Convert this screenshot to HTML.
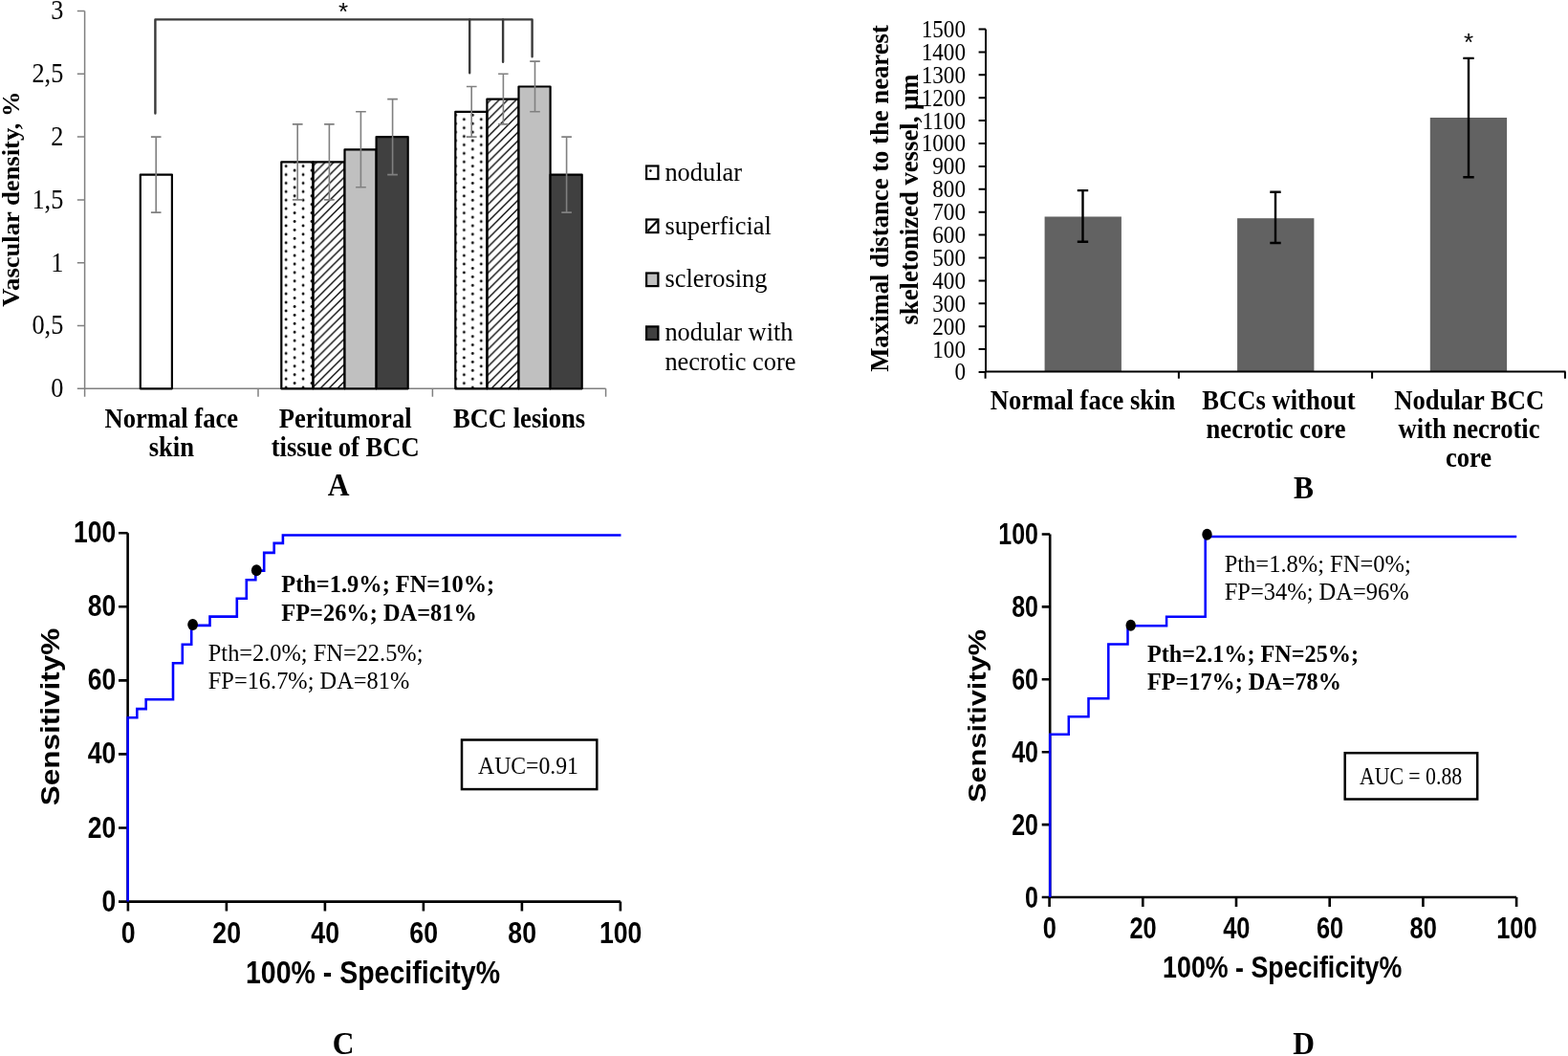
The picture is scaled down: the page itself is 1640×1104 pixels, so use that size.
<!DOCTYPE html>
<html><head><meta charset="utf-8"><title>Figure</title>
<style>
html,body{margin:0;padding:0;background:#fff;width:1640px;height:1104px;overflow:hidden;}
svg{display:block;}
#wrap{width:1640px;height:1104px;}
.s{font-family:"Liberation Serif","Times New Roman",serif;}
.a{font-family:"Liberation Sans",Arial,sans-serif;}
</style></head><body>
<div id="wrap">
<svg width="1640" height="1104" viewBox="0 0 1640 1104">
<defs>
<pattern id="dotsB" patternUnits="userSpaceOnUse" width="17.9" height="8.9" x="485.4" y="258.3">
<circle cx="0" cy="0" r="1.4" fill="#000"/><circle cx="17.9" cy="0" r="1.4" fill="#000"/>
<circle cx="0" cy="8.9" r="1.4" fill="#000"/><circle cx="17.9" cy="8.9" r="1.4" fill="#000"/>
<circle cx="8.95" cy="4.45" r="1.4" fill="#000"/>
</pattern>
<pattern id="dotsP" patternUnits="userSpaceOnUse" width="17.9" height="8.9" x="299.2" y="253.8">
<circle cx="0" cy="0" r="1.4" fill="#000"/><circle cx="17.9" cy="0" r="1.4" fill="#000"/>
<circle cx="0" cy="8.9" r="1.4" fill="#000"/><circle cx="17.9" cy="8.9" r="1.4" fill="#000"/>
<circle cx="8.95" cy="4.45" r="1.4" fill="#000"/>
</pattern>
<pattern id="hatchP" patternUnits="userSpaceOnUse" width="8.9" height="8.9" x="0" y="2.45">
<path d="M-2,10.9 L10.9,-2 M-2,2 L2,-2 M6.9,10.9 L10.9,6.9" stroke="#000" stroke-width="1.35"/>
</pattern>
<pattern id="hatchB" patternUnits="userSpaceOnUse" width="8.9" height="8.9" x="0" y="3.5">
<path d="M-2,10.9 L10.9,-2 M-2,2 L2,-2 M6.9,10.9 L10.9,6.9" stroke="#000" stroke-width="1.35"/>
</pattern>
</defs>
<rect width="1640" height="1104" fill="#fff"/>
<g>
<g id="A">
<g stroke="#808080" stroke-width="1.5" fill="none">
<path d="M88.6,11.5 V406.3 H633.6"/>
<path d="M80.8,406.3 H88.6 M80.8,340.5 H88.6 M80.8,274.7 H88.6 M80.8,208.9 H88.6 M80.8,143.1 H88.6 M80.8,77.3 H88.6 M80.8,11.5 H88.6"/>
<path d="M88.6,406.3 V414.7 M270,406.3 V414.7 M452.4,406.3 V414.7 M633.6,406.3 V414.7"/>
</g>
<text class="s" font-size="26.3" text-anchor="end" transform="translate(66.30,415.10) scale(1.000,1.100)">0</text>
<text class="s" font-size="26.3" text-anchor="end" transform="translate(66.30,349.30) scale(1.000,1.100)">0,5</text>
<text class="s" font-size="26.3" text-anchor="end" transform="translate(66.30,283.50) scale(1.000,1.100)">1</text>
<text class="s" font-size="26.3" text-anchor="end" transform="translate(66.30,217.70) scale(1.000,1.100)">1,5</text>
<text class="s" font-size="26.3" text-anchor="end" transform="translate(66.30,151.90) scale(1.000,1.100)">2</text>
<text class="s" font-size="26.3" text-anchor="end" transform="translate(66.30,86.10) scale(1.000,1.100)">2,5</text>
<text class="s" font-size="26.3" text-anchor="end" transform="translate(66.30,20.30) scale(1.000,1.100)">3</text>
<text class="s" font-size="26.6" font-weight="bold" text-anchor="middle" transform="translate(20.00,208.00) rotate(-90) scale(1.000,0.980)">Vascular density, %</text>
<g stroke="#000" stroke-width="2.2" stroke-linejoin="round">
<rect x="146.8" y="182.6" width="33.1" height="223.7" fill="#fff"/>
<rect x="294.3" y="169.4" width="33.1" height="236.9" fill="url(#dotsP)"/>
<rect x="327.4" y="169.4" width="33.1" height="236.9" fill="url(#hatchP)"/>
<rect x="360.5" y="156.3" width="33.1" height="250.0" fill="#c0c0c0"/>
<rect x="393.6" y="143.1" width="33.1" height="263.2" fill="#404040"/>
<rect x="476.3" y="116.8" width="33.1" height="289.5" fill="url(#dotsB)"/>
<rect x="509.4" y="103.6" width="33.1" height="302.7" fill="url(#hatchB)"/>
<rect x="542.5" y="90.5" width="33.1" height="315.8" fill="#c0c0c0"/>
<rect x="575.6" y="182.6" width="33.1" height="223.7" fill="#404040"/>
</g>
<g stroke="#808080" stroke-width="1.6" fill="none">
<path d="M163.2,143.1 V222.1 M157.9,143.1 H168.5 M157.9,222.1 H168.5"/>
<path d="M311.2,129.9 V208.9 M305.9,129.9 H316.6 M305.9,208.9 H316.6"/>
<path d="M344.4,129.9 V208.9 M339.1,129.9 H349.7 M339.1,208.9 H349.7"/>
<path d="M377.4,116.8 V195.7 M372.1,116.8 H382.8 M372.1,195.7 H382.8"/>
<path d="M410.6,103.6 V182.6 M405.2,103.6 H415.9 M405.2,182.6 H415.9"/>
<path d="M493.2,90.5 V143.1 M487.9,90.5 H498.6 M487.9,143.1 H498.6"/>
<path d="M526.4,77.3 V129.9 M521.1,77.3 H531.6 M521.1,129.9 H531.6"/>
<path d="M559.5,64.1 V116.8 M554.2,64.1 H564.8 M554.2,116.8 H564.8"/>
<path d="M592.6,143.1 V222.1 M587.3,143.1 H597.9 M587.3,222.1 H597.9"/>
</g>
<g stroke="#3a3a3a" stroke-width="2.4" fill="none" stroke-linejoin="round" stroke-linecap="round">
<path d="M162.4,118.5 V20.4 H556.6 V59.2"/>
<path d="M491.2,20.4 V76.3 M526.1,20.4 V64.8"/>
</g>
<text class="a" font-size="26" text-anchor="middle" transform="translate(359.00,20.50)">*</text>
<text class="s" font-size="26.6" font-weight="bold" text-anchor="middle" transform="translate(179.30,446.80) scale(1.000,1.070)">Normal face</text>
<text class="s" font-size="26.6" font-weight="bold" text-anchor="middle" transform="translate(179.30,477.00) scale(1.000,1.070)">skin</text>
<text class="s" font-size="26.6" font-weight="bold" text-anchor="middle" transform="translate(361.20,446.80) scale(1.000,1.070)">Peritumoral</text>
<text class="s" font-size="26.6" font-weight="bold" text-anchor="middle" transform="translate(361.20,477.00) scale(1.000,1.070)">tissue of BCC</text>
<text class="s" font-size="26.6" font-weight="bold" text-anchor="middle" transform="translate(543.00,446.80) scale(1.000,1.070)">BCC lesions</text>
<text class="s" font-size="31.5" font-weight="bold" text-anchor="middle" transform="translate(354.00,517.50) scale(1.000,1.090)">A</text>
<g stroke="#000" stroke-width="2.2">
<rect x="676.1" y="173.5" width="12.3" height="13.6" fill="#fff"/>
<rect x="676.1" y="229.5" width="12.3" height="13.6" fill="#fff"/>
<rect x="676.1" y="285.5" width="12.3" height="13.6" fill="#c0c0c0"/>
<rect x="676.1" y="341.4" width="12.3" height="13.6" fill="#404040"/>
</g>
<circle cx="680.4" cy="178.6" r="1.3" fill="#000"/>
<path d="M677.5,241.5 L687.5,231" stroke="#000" stroke-width="2.2"/>
<text class="s" font-size="26.4" transform="translate(695.40,188.60)">nodular</text>
<text class="s" font-size="26.4" transform="translate(695.40,244.60)">superficial</text>
<text class="s" font-size="26.4" transform="translate(695.40,300.40)">sclerosing</text>
<text class="s" font-size="26.4" transform="translate(695.40,356.00)">nodular with</text>
<text class="s" font-size="26.4" transform="translate(695.40,387.10)">necrotic core</text>
</g>
<g id="B">
<text class="s" font-size="26.7" font-weight="bold" text-anchor="middle" transform="translate(929.00,207.50) rotate(-90)">Maximal distance to the nearest</text>
<text class="s" font-size="26.7" font-weight="bold" text-anchor="middle" transform="translate(960.00,208.50) rotate(-90)">skeletonized vessel, µm</text>
<text class="s" font-size="23.2" text-anchor="end" transform="translate(1010.00,397.40) scale(1.000,1.080)">0</text>
<text class="s" font-size="23.2" text-anchor="end" transform="translate(1010.00,373.50) scale(1.000,1.080)">100</text>
<text class="s" font-size="23.2" text-anchor="end" transform="translate(1010.00,349.60) scale(1.000,1.080)">200</text>
<text class="s" font-size="23.2" text-anchor="end" transform="translate(1010.00,325.70) scale(1.000,1.080)">300</text>
<text class="s" font-size="23.2" text-anchor="end" transform="translate(1010.00,301.80) scale(1.000,1.080)">400</text>
<text class="s" font-size="23.2" text-anchor="end" transform="translate(1010.00,277.90) scale(1.000,1.080)">500</text>
<text class="s" font-size="23.2" text-anchor="end" transform="translate(1010.00,254.00) scale(1.000,1.080)">600</text>
<text class="s" font-size="23.2" text-anchor="end" transform="translate(1010.00,230.10) scale(1.000,1.080)">700</text>
<text class="s" font-size="23.2" text-anchor="end" transform="translate(1010.00,206.20) scale(1.000,1.080)">800</text>
<text class="s" font-size="23.2" text-anchor="end" transform="translate(1010.00,182.30) scale(1.000,1.080)">900</text>
<text class="s" font-size="23.2" text-anchor="end" transform="translate(1010.00,158.40) scale(1.000,1.080)">1000</text>
<text class="s" font-size="23.2" text-anchor="end" transform="translate(1010.00,134.50) scale(1.000,1.080)">1100</text>
<text class="s" font-size="23.2" text-anchor="end" transform="translate(1010.00,110.60) scale(1.000,1.080)">1200</text>
<text class="s" font-size="23.2" text-anchor="end" transform="translate(1010.00,86.70) scale(1.000,1.080)">1300</text>
<text class="s" font-size="23.2" text-anchor="end" transform="translate(1010.00,62.80) scale(1.000,1.080)">1400</text>
<text class="s" font-size="23.2" text-anchor="end" transform="translate(1010.00,38.90) scale(1.000,1.080)">1500</text>
<g fill="#626262">
<rect x="1092.6" y="226.5" width="80.3" height="162.1"/>
<rect x="1294.1" y="228.2" width="80.3" height="160.4"/>
<rect x="1495.8" y="123.0" width="80.3" height="265.6"/>
</g>
<g stroke="#000" stroke-width="2" fill="none">
<path d="M1031,30.5 V388.6 H1637.5"/>
<path d="M1023.6,389.0 H1031 M1023.6,365.1 H1031 M1023.6,341.2 H1031 M1023.6,317.3 H1031 M1023.6,293.4 H1031 M1023.6,269.5 H1031 M1023.6,245.6 H1031 M1023.6,221.7 H1031 M1023.6,197.8 H1031 M1023.6,173.9 H1031 M1023.6,150.0 H1031 M1023.6,126.1 H1031 M1023.6,102.2 H1031 M1023.6,78.3 H1031 M1023.6,54.4 H1031 M1023.6,30.5 H1031"/>
<path d="M1030.6,388.6 V395.7 M1232.9,388.6 V395.7 M1435.1,388.6 V395.7 M1636.9,388.6 V395.7"/>
</g>
<g stroke="#000" stroke-width="2.4" fill="none">
<path d="M1132.5,199.1 V252.8 M1126.8,199.1 H1138.2 M1126.8,252.8 H1138.2"/>
<path d="M1334,200.7 V254 M1328.3,200.7 H1339.7 M1328.3,254 H1339.7"/>
<path d="M1536,60.9 V185.2 M1530.3,60.9 H1541.7 M1530.3,185.2 H1541.7"/>
</g>
<text class="a" font-size="26" text-anchor="middle" transform="translate(1536.00,53.00)">*</text>
<text class="s" font-size="26.6" font-weight="bold" text-anchor="middle" transform="translate(1132.50,428.10) scale(1.000,1.080)">Normal face skin</text>
<text class="s" font-size="26.6" font-weight="bold" text-anchor="middle" transform="translate(1337.50,428.10) scale(1.000,1.080)">BCCs without</text>
<text class="s" font-size="26.6" font-weight="bold" text-anchor="middle" transform="translate(1334.50,457.95) scale(1.000,1.080)">necrotic core</text>
<text class="s" font-size="26.6" font-weight="bold" text-anchor="middle" transform="translate(1536.80,428.10) scale(1.000,1.080)">Nodular BCC</text>
<text class="s" font-size="26.6" font-weight="bold" text-anchor="middle" transform="translate(1536.50,457.95) scale(1.000,1.080)">with necrotic</text>
<text class="s" font-size="26.6" font-weight="bold" text-anchor="middle" transform="translate(1536.00,487.80) scale(1.000,1.080)">core</text>
<text class="s" font-size="31.5" font-weight="bold" text-anchor="middle" transform="translate(1363.40,521.20) scale(1.000,1.090)">B</text>
</g>
<g id="C">
<g stroke="#000" stroke-width="2.6" fill="none">
<path d="M133.6,557.2 V942.6 H648.9"/>
<path d="M124,942.6 H133.6 M124,865.5 H133.6 M124,788.4 H133.6 M124,711.4 H133.6 M124,634.3 H133.6 M124,557.2 H133.6"/>
<path d="M133.9,942.6 V952.6 M236.9,942.6 V952.6 M339.9,942.6 V952.6 M442.9,942.6 V952.6 M545.9,942.6 V952.6 M648.9,942.6 V952.6"/>
</g>
<text class="a" font-size="26.5" font-weight="bold" text-anchor="end" transform="translate(121.20,952.60) scale(1.000,1.190)">0</text>
<text class="a" font-size="26.7" font-weight="bold" text-anchor="middle" transform="translate(134.20,986.00) scale(1.000,1.190)">0</text>
<text class="a" font-size="26.5" font-weight="bold" text-anchor="end" transform="translate(121.20,875.52) scale(1.000,1.190)">20</text>
<text class="a" font-size="26.7" font-weight="bold" text-anchor="middle" transform="translate(237.20,986.00) scale(1.000,1.190)">20</text>
<text class="a" font-size="26.5" font-weight="bold" text-anchor="end" transform="translate(121.20,798.44) scale(1.000,1.190)">40</text>
<text class="a" font-size="26.7" font-weight="bold" text-anchor="middle" transform="translate(340.20,986.00) scale(1.000,1.190)">40</text>
<text class="a" font-size="26.5" font-weight="bold" text-anchor="end" transform="translate(121.20,721.36) scale(1.000,1.190)">60</text>
<text class="a" font-size="26.7" font-weight="bold" text-anchor="middle" transform="translate(443.20,986.00) scale(1.000,1.190)">60</text>
<text class="a" font-size="26.5" font-weight="bold" text-anchor="end" transform="translate(121.20,644.28) scale(1.000,1.190)">80</text>
<text class="a" font-size="26.7" font-weight="bold" text-anchor="middle" transform="translate(546.20,986.00) scale(1.000,1.190)">80</text>
<text class="a" font-size="26.5" font-weight="bold" text-anchor="end" transform="translate(121.20,567.20) scale(1.000,1.190)">100</text>
<text class="a" font-size="26.7" font-weight="bold" text-anchor="middle" transform="translate(649.20,986.00) scale(1.000,1.190)">100</text>
<text class="a" font-size="28.5" font-weight="bold" text-anchor="middle" transform="translate(390.00,1027.50) scale(1.000,1.160)">100% - Specificity%</text>
<text class="a" font-size="26.9" font-weight="bold" text-anchor="middle" transform="translate(61.50,749.50) rotate(-90) scale(1.170,1.000)">Sensitivity%</text>
<path d="M133.7,942.6 V750.3 H143.3 V741.1 H152.7 V731.3 H181 V693.3 H190.8 V673.7 H200.2 V653.9 H219.5 V644.6 H247.8 V625.7 H257.8 V606.3 H267.3 V596.6 H276.2 V577.9 H286.7 V567.9 H295.9 V559.5 H649.5" stroke="#0000ff" stroke-width="2.6" fill="none"/>
<ellipse cx="201.6" cy="653" rx="5.4" ry="6" fill="#000"/>
<ellipse cx="268.3" cy="596.3" rx="5.4" ry="6" fill="#000"/>
<text class="s" font-size="24.4" font-weight="bold" transform="translate(294.30,619.20) scale(1.000,1.055)">Pth=1.9%; FN=10%;</text>
<text class="s" font-size="24.4" font-weight="bold" transform="translate(294.30,648.60) scale(1.000,1.055)">FP=26%; DA=81%</text>
<text class="s" font-size="24.4" transform="translate(217.80,691.10) scale(1.000,1.050)">Pth=2.0%; FN=22.5%;</text>
<text class="s" font-size="24.4" transform="translate(217.80,719.50) scale(1.000,1.050)">FP=16.7%; DA=81%</text>
<rect x="483" y="773.5" width="141.3" height="51.6" fill="none" stroke="#000" stroke-width="2.5"/>
<text class="s" font-size="23.7" transform="translate(500.10,809.10) scale(1.000,1.080)">AUC=0.91</text>
<text class="s" font-size="31.5" font-weight="bold" text-anchor="middle" transform="translate(359.00,1102.30) scale(1.000,1.090)">C</text>
</g>
<g id="D">
<g stroke="#000" stroke-width="2.6" fill="none">
<path d="M1098.2,558.5 V938 H1586.1"/>
<path d="M1089.7,938.0 H1098.2 M1089.7,862.1 H1098.2 M1089.7,786.2 H1098.2 M1089.7,710.3 H1098.2 M1089.7,634.4 H1098.2 M1089.7,558.5 H1098.2"/>
<path d="M1097.6,938 V948 M1195.3,938 V948 M1293.0,938 V948 M1390.7,938 V948 M1488.4,938 V948 M1586.1,938 V948"/>
</g>
<text class="a" font-size="25" font-weight="bold" text-anchor="end" transform="translate(1086.00,948.50) scale(1.000,1.250)">0</text>
<text class="a" font-size="25.4" font-weight="bold" text-anchor="middle" transform="translate(1097.90,981.30) scale(1.000,1.240)">0</text>
<text class="a" font-size="25" font-weight="bold" text-anchor="end" transform="translate(1086.00,872.60) scale(1.000,1.250)">20</text>
<text class="a" font-size="25.4" font-weight="bold" text-anchor="middle" transform="translate(1195.60,981.30) scale(1.000,1.240)">20</text>
<text class="a" font-size="25" font-weight="bold" text-anchor="end" transform="translate(1086.00,796.70) scale(1.000,1.250)">40</text>
<text class="a" font-size="25.4" font-weight="bold" text-anchor="middle" transform="translate(1293.30,981.30) scale(1.000,1.240)">40</text>
<text class="a" font-size="25" font-weight="bold" text-anchor="end" transform="translate(1086.00,720.80) scale(1.000,1.250)">60</text>
<text class="a" font-size="25.4" font-weight="bold" text-anchor="middle" transform="translate(1391.00,981.30) scale(1.000,1.240)">60</text>
<text class="a" font-size="25" font-weight="bold" text-anchor="end" transform="translate(1086.00,644.90) scale(1.000,1.250)">80</text>
<text class="a" font-size="25.4" font-weight="bold" text-anchor="middle" transform="translate(1488.70,981.30) scale(1.000,1.240)">80</text>
<text class="a" font-size="25" font-weight="bold" text-anchor="end" transform="translate(1086.00,569.00) scale(1.000,1.250)">100</text>
<text class="a" font-size="25.4" font-weight="bold" text-anchor="middle" transform="translate(1586.40,981.30) scale(1.000,1.240)">100</text>
<text class="a" font-size="26.8" font-weight="bold" text-anchor="middle" transform="translate(1341.20,1021.70) scale(1.000,1.170)">100% - Specificity%</text>
<text class="a" font-size="26.3" font-weight="bold" text-anchor="middle" transform="translate(1031.00,748.50) rotate(-90) scale(1.170,1.000)">Sensitivity%</text>
<path d="M1098.2,938 V767.8 H1117.8 V749.2 H1138.5 V730.2 H1159.3 V673.5 H1179.5 V654.3 H1220.1 V644.8 H1260.7 V561 H1586.2" stroke="#0000ff" stroke-width="2.5" fill="none"/>
<ellipse cx="1182.7" cy="653.7" rx="5.2" ry="6" fill="#000"/>
<ellipse cx="1262.5" cy="558.8" rx="5.2" ry="6" fill="#000"/>
<text class="s" font-size="24.5" transform="translate(1280.70,597.70) scale(1.000,1.050)">Pth=1.8%; FN=0%;</text>
<text class="s" font-size="24.5" transform="translate(1280.70,626.50) scale(1.000,1.050)">FP=34%; DA=96%</text>
<text class="s" font-size="24.2" font-weight="bold" transform="translate(1200.00,692.00) scale(1.000,1.060)">Pth=2.1%; FN=25%;</text>
<text class="s" font-size="24.2" font-weight="bold" transform="translate(1200.00,721.10) scale(1.000,1.060)">FP=17%; DA=78%</text>
<rect x="1406.7" y="787.2" width="138.5" height="48.3" fill="none" stroke="#000" stroke-width="2.5"/>
<text class="s" font-size="21.8" transform="translate(1421.90,819.80) scale(1.000,1.170)">AUC = 0.88</text>
<text class="s" font-size="31.5" font-weight="bold" text-anchor="middle" transform="translate(1363.70,1102.20) scale(1.000,1.090)">D</text>
</g>
</g>
</svg>
</div>
</body></html>
